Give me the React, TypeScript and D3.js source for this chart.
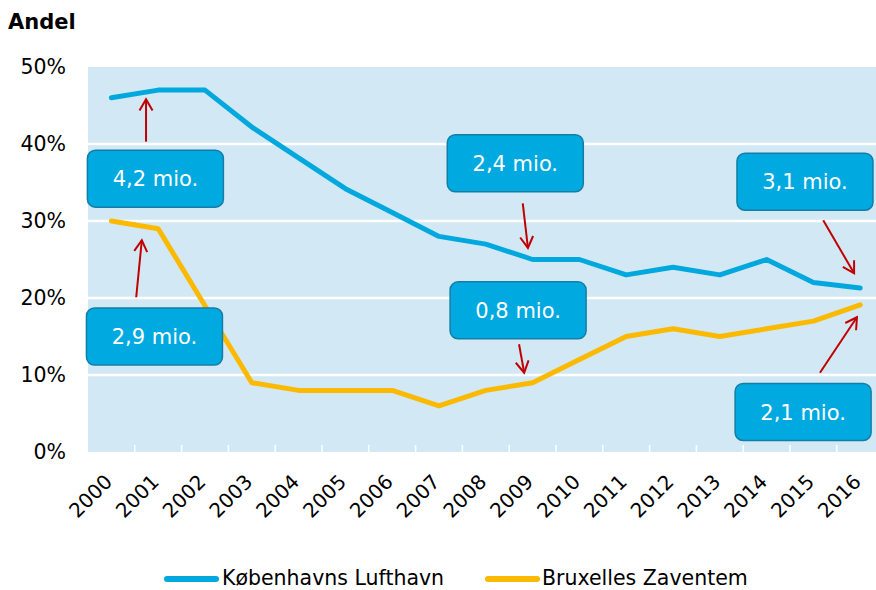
import React from "react";
import * as d3 from "d3";

const years = ["2000","2001","2002","2003","2004","2005","2006","2007","2008","2009","2010","2011","2012","2013","2014","2015","2016"];
const copenhagen = [46, 47, 47, 42.2, 38.2, 34.2, 31.1, 28, 27, 25, 25, 23, 24, 23, 25, 22, 21.3];
const brussels = [30, 29, 19, 9, 8, 8, 8, 6, 8, 9, 12, 15, 16, 15, 16, 17, 19.1];
const yTicks = [0, 10, 20, 30, 40, 50];
const seriesNames = ["Københavns Lufthavn", "Bruxelles Zaventem"];
// annotations: box centre (index, value), arrow tail and head (index, value)
const annLabels = ["4,2 mio.", "2,9 mio.", "2,4 mio.", "0,8 mio.", "3,1 mio.", "2,1 mio."];
const annBox = [[0.94, 35.5], [0.92, 15.0], [8.63, 37.5], [8.69, 18.4], [14.82, 35.1], [14.78, 5.2]];
const annTail = [[0.74, 40.3], [0.53, 20.1], [8.79, 32.3], [8.71, 14.0], [15.21, 30.1], [15.14, 10.3]];
const annHead = [[0.74, 45.8], [0.65, 27.5], [8.9, 26.5], [8.82, 10.3], [15.87, 23.2], [15.93, 17.5]];

const W = 876, H = 590;
const left = 88, bw = 46.8;
const top = 67, bottom = 452;
const BLUE = "#00a8de";
const YELLOW = "#fbb900";
const FONT = "DejaVu Sans";

export default function App() {
  const x = d3.scaleBand<string>().domain(years).range([left, left + bw * years.length]).padding(0);
  const xi = d3.scaleLinear().domain([0, 1]).range([left + bw / 2, left + bw * 1.5]);
  const y = d3.scaleLinear().domain([0, 50]).range([bottom, top]);
  const line = d3.line<number>().x((_, i) => (x(years[i]) as number) + bw / 2).y(d => y(d));
  const plotRight = left + bw * years.length;

  const arrowHead = (hx: number, hy: number, tx: number, ty: number) => {
    const ang = Math.atan2(hy - ty, hx - tx);
    const L = 13, a = Math.PI / 6;
    const p1 = [hx - L * Math.cos(ang - a), hy - L * Math.sin(ang - a)];
    const p2 = [hx - L * Math.cos(ang + a), hy - L * Math.sin(ang + a)];
    return `M${p1[0]},${p1[1]}L${hx},${hy}L${p2[0]},${p2[1]}`;
  };

  return (
    <div style={{ position: "absolute", left: 0, top: 0 }}>
      <svg width={W} height={H} style={{ display: "block" }} fontFamily={FONT}>
        <rect x={0} y={0} width={W} height={H} fill="#fff" />
        <text x={8} y={29} fontSize={21} fontWeight="bold" fill="#000">Andel</text>
        <rect x={left} y={top} width={plotRight - left} height={bottom - top} fill="#d3e8f5" />
        {yTicks.filter(t => t > 0 && t < 50).map(t => (
          <line key={t} x1={left} x2={plotRight} y1={y(t)} y2={y(t)} stroke="#fff" strokeWidth={2.5} />
        ))}
        {yTicks.map(t => (
          <text key={t} x={66} y={y(t)} dy="0.36em" textAnchor="end" fontSize={20.5} fill="#000">{t}%</text>
        ))}
        {years.slice(1).map(yr => (
          <line key={yr} x1={x(yr)} x2={x(yr)} y1={bottom - 7} y2={bottom} stroke="#fff" strokeWidth={1.5} />
        ))}
        {years.map(yr => {
          const cx = (x(yr) as number) + bw / 2;
          return (
            <text key={yr} transform={`translate(${cx + 2},${bottom + 31}) rotate(-45)`} textAnchor="end" fontSize={20} fill="#000">{yr}</text>
          );
        })}
        <path d={line(copenhagen) as string} fill="none" stroke={BLUE} strokeWidth={5} strokeLinejoin="round" strokeLinecap="round" />
        <path d={line(brussels) as string} fill="none" stroke={YELLOW} strokeWidth={5} strokeLinejoin="round" strokeLinecap="round" />
        {annLabels.map((lab, i) => {
          const bx = xi(annBox[i][0]), by = y(annBox[i][1]);
          const tx = xi(annTail[i][0]), ty = y(annTail[i][1]);
          const hx = xi(annHead[i][0]), hy = y(annHead[i][1]);
          const bwid = 136, bh = 57;
          return (
            <g key={lab}>
              <rect x={bx - bwid / 2} y={by - bh / 2} width={bwid} height={bh} rx={8} ry={8} fill="#00a9df" stroke="#137ea5" strokeWidth={1.5} />
              <text x={bx} y={by} dy="0.36em" textAnchor="middle" fontSize={21} fill="#fff">{lab}</text>
              <line x1={tx} y1={ty} x2={hx} y2={hy} stroke="#c00000" strokeWidth={2} />
              <path d={arrowHead(hx, hy, tx, ty)} fill="none" stroke="#c00000" strokeWidth={2} />
            </g>
          );
        })}
        <g>
          <line x1={167} x2={216} y1={579} y2={579} stroke={BLUE} strokeWidth={6} strokeLinecap="round" />
          <text x={222} y={585} fontSize={20.5} fill="#000">{seriesNames[0]}</text>
          <line x1={488} x2={537} y1={579} y2={579} stroke={YELLOW} strokeWidth={6} strokeLinecap="round" />
          <text x={542} y={585} fontSize={20.5} fill="#000">{seriesNames[1]}</text>
        </g>
      </svg>
    </div>
  );
}
